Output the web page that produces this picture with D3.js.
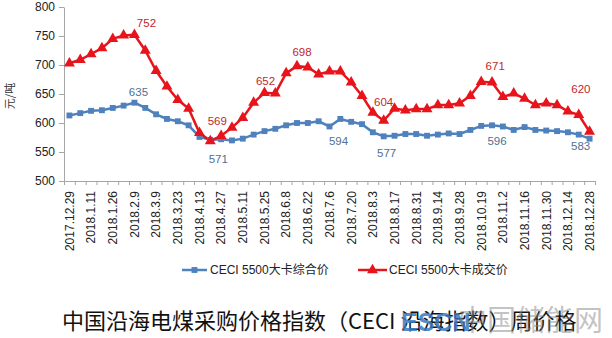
<!DOCTYPE html>
<html>
<head>
<meta charset="utf-8">
<script src="https://cdn.jsdelivr.net/npm/d3@7"></script>
<style>
  html, body { margin: 0; padding: 0; background: #ffffff; }
  svg { display: block; }
</style>
</head>
<body>
<svg id="chart" width="612" height="338"></svg>
<script>
// ---------------- data ----------------
const categories = [
  "2017.12.29","2018.1.5","2018.1.11","2018.1.19","2018.1.26","2018.2.2","2018.2.9","2018.3.2",
  "2018.3.9","2018.3.16","2018.3.23","2018.3.30","2018.4.13","2018.4.20","2018.4.27","2018.5.4",
  "2018.5.11","2018.5.18","2018.5.25","2018.6.1","2018.6.8","2018.6.15","2018.6.22","2018.6.29",
  "2018.7.6","2018.7.13","2018.7.20","2018.7.27","2018.8.3","2018.8.10","2018.8.17","2018.8.24",
  "2018.8.31","2018.9.7","2018.9.14","2018.9.21","2018.9.28","2018.10.12","2018.10.19","2018.10.26",
  "2018.11.2","2018.11.9","2018.11.16","2018.11.23","2018.11.30","2018.12.7","2018.12.14","2018.12.21",
  "2018.12.28"
];
const compositePrice = [
  613,617,621,622,626,630,635,626,615,607,603,596,576,571,572,570,
  573,580,586,590,596,600,600,603,594,607,602,598,584,577,578,581,
  581,578,580,582,581,588,595,596,594,588,593,588,587,586,584,580,
  573
];
const dealPrice = [
  703,709,719,729,745,751,752,725,690,663,640,625,583,569,578,592,
  609,635,652,651,686,698,696,684,689,689,670,647,618,604,625,622,
  624,624,631,631,634,647,671,670,645,651,642,631,634,631,620,614,
  585
];
const yTicks = [500, 550, 600, 650, 700, 750, 800];
const seriesNames = ["CECI 5500大卡综合价", "CECI 5500大卡成交价"];
// data labels: index into the series and the printed text
const compositeLabelIdx = [6, 13, 24, 29, 39, 48];
const compositeLabelText = ["635", "571", "594", "577", "596", "583"];
const dealLabelIdx = [6, 13, 18, 21, 29, 38, 46];
const dealLabelText = ["752", "569", "652", "698", "604", "671", "620"];
const titleText = "中国沿海电煤采购价格指数（CECI 沿海指数）周价格";
const yTitle = "元/吨";

// ---------------- style / layout ----------------
const blue = "#4F81BD", red = "#E8141B";
const blueLabel = "#4E7194", redLabel = "#C0282E";
const latin = "'Liberation Sans', Arial, 'Noto Sans CJK SC', sans-serif";
const cjk = "'Noto Sans CJK SC', 'Liberation Sans', sans-serif";
const plot = { left: 64, right: 595, top: 7, bottom: 181 };

const svg = d3.select("#chart");

const x = d3.scaleBand().domain(categories).range([plot.left, plot.right]).padding(0);
const xIdx = d3.scaleLinear().domain([0, categories.length]).range([plot.left, plot.right]);
const y = d3.scaleLinear().domain([500, 800]).range([plot.bottom, plot.top]);
const cx = i => x(categories[i]) + x.bandwidth() / 2;

// y axis
const yAxis = svg.append("g")
  .attr("transform", `translate(${plot.left},0)`)
  .call(d3.axisLeft(y).tickValues(yTicks).tickSize(5).tickPadding(4).tickSizeOuter(0));
yAxis.select(".domain").attr("stroke", "#A6A6A6");
yAxis.selectAll(".tick line").attr("stroke", "#A6A6A6");
yAxis.selectAll("text").attr("font-family", latin).attr("font-size", 12).attr("fill", "#222");

// x axis: boundary ticks
const xTickAxis = svg.append("g")
  .attr("transform", `translate(0,${plot.bottom})`)
  .call(d3.axisBottom(xIdx).tickValues(d3.range(categories.length + 1)).tickSize(4).tickFormat("").tickSizeOuter(0));
xTickAxis.select(".domain").attr("stroke", "#A6A6A6");
xTickAxis.selectAll(".tick line").attr("stroke", "#A6A6A6");

// x axis: labels
const xLab = svg.append("g")
  .attr("transform", `translate(0,${plot.bottom})`)
  .call(d3.axisBottom(x).tickValues(categories.filter((d, i) => i % 2 === 0)).tickSize(0));
xLab.select(".domain").remove();
xLab.selectAll("text")
  .attr("font-family", latin).attr("font-size", 12).attr("fill", "#222")
  .attr("transform", "rotate(-90)")
  .attr("text-anchor", "end")
  .attr("x", -10).attr("y", 0).attr("dy", "0.36em");

// y title
svg.append("text")
  .attr("transform", "translate(14,96) rotate(-90)")
  .attr("text-anchor", "middle")
  .attr("font-family", cjk).attr("font-size", 11).attr("fill", "#333")
  .text(yTitle);

// lines
const line = d3.line().x((d, i) => cx(i)).y(d => y(d));
svg.append("path").datum(compositePrice)
  .attr("d", line).attr("fill", "none").attr("stroke", blue).attr("stroke-width", 2.5);
svg.append("path").datum(dealPrice)
  .attr("d", line).attr("fill", "none").attr("stroke", red).attr("stroke-width", 2.5);

const diamond = d3.symbol().type(d3.symbolDiamond2).size(44);
const triangle = d3.symbol().type(d3.symbolTriangle).size(52);

svg.append("g").selectAll("path").data(compositePrice).join("path")
  .attr("d", diamond)
  .attr("transform", (d, i) => `translate(${cx(i)},${y(d)}) rotate(45)`)
  .attr("fill", blue);
svg.append("g").selectAll("path").data(dealPrice).join("path")
  .attr("d", triangle)
  .attr("transform", (d, i) => `translate(${cx(i)},${y(d)})`)
  .attr("fill", red);

// data labels
const compositeOffsets = [[4, -11], [8, 19], [9, 14], [3, 17], [5, 16], [-9, 7]];
const dealOffsets = [[12, -12], [7, -20], [1, -12], [5, -14], [0, -19], [14, -16], [13, -23]];
svg.append("g").selectAll("text").data(compositeLabelIdx).join("text")
  .attr("x", (d, k) => cx(d) + compositeOffsets[k][0])
  .attr("y", (d, k) => y(compositePrice[d]) + compositeOffsets[k][1])
  .attr("dy", "0.36em").attr("text-anchor", "middle")
  .attr("font-family", latin).attr("font-size", 11.5).attr("fill", blueLabel)
  .text((d, k) => compositeLabelText[k]);
svg.append("g").selectAll("text").data(dealLabelIdx).join("text")
  .attr("x", (d, k) => cx(d) + dealOffsets[k][0])
  .attr("y", (d, k) => y(dealPrice[d]) + dealOffsets[k][1])
  .attr("dy", "0.36em").attr("text-anchor", "middle")
  .attr("font-family", latin).attr("font-size", 11.5).attr("fill", redLabel)
  .text((d, k) => dealLabelText[k]);

// legend
const legendItems = [
  { name: seriesNames[0], color: blue, sym: diamond, rot: 45, x0: 182, x1: 207, tx: 210 },
  { name: seriesNames[1], color: red, sym: triangle, rot: 0, x0: 358, x1: 387, tx: 389 }
];
const lg = svg.append("g").attr("transform", "translate(0,270)");
legendItems.forEach(it => {
  lg.append("line").attr("x1", it.x0).attr("x2", it.x1).attr("y1", 0).attr("y2", 0)
    .attr("stroke", it.color).attr("stroke-width", 2.5);
  lg.append("path").attr("d", it.sym)
    .attr("transform", `translate(${(it.x0 + it.x1) / 2},0) rotate(${it.rot})`)
    .attr("fill", it.color);
  lg.append("text").attr("x", it.tx).attr("y", 0).attr("dy", "0.36em")
    .attr("font-family", latin).attr("font-size", 12).attr("fill", "#222")
    .text(it.name);
});

// title
svg.append("text")
  .attr("x", 62).attr("y", 329)
  .attr("font-family", cjk).attr("font-size", 22).attr("font-weight", 400).attr("fill", "#111")
  .text(titleText);

// watermark overlay (as in the reference image)
svg.append("text")
  .attr("x", 401).attr("y", 331)
  .attr("font-family", "'Liberation Sans', Arial, sans-serif").attr("font-weight", "bold")
  .attr("font-size", 25).attr("fill", "#3A78C2").attr("fill-opacity", 0.85)
  .text("ESCN");
svg.append("text")
  .attr("x", 458).attr("y", 331)
  .attr("font-family", cjk).attr("font-size", 29).attr("fill", "#888").attr("fill-opacity", 0.5)
  .text("中国储能网");
</script>
</body>
</html>
